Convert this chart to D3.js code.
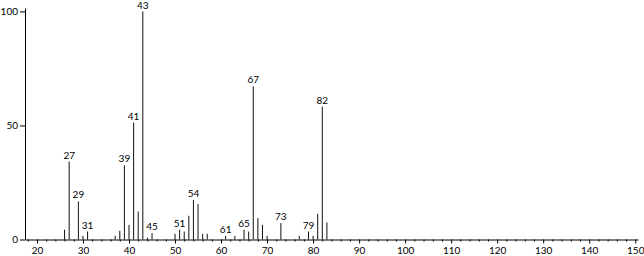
<!DOCTYPE html>
<html><head><meta charset="utf-8">
<script src="https://cdn.jsdelivr.net/npm/d3@7"></script>
<style>
html,body{margin:0;padding:0;background:#fff;}
svg{display:block;}
text{font-family:Lato, "DejaVu Sans", sans-serif;}
</style></head>
<body>
<script>
const mz =        [26, 27, 29, 30, 31, 37, 38, 39, 40, 41, 42, 43, 44, 45, 50, 51, 52, 53, 54, 55, 56, 57, 61, 63, 65, 66, 67, 68, 69, 70, 73, 77, 79, 80, 81, 82, 83];
const intensity = [4.3,34.2,16.7,1.6,3.5,1.6,3.8,32.5,6.4,51.3,12.3,100,0.8,2.8,2.5,4.3,3.5,10.4,17.4,15.5,2.5,2.5,1.6,1.6,4.3,3.5,67.2,9.4,6.4,1.6,7.2,1.6,3.5,1.6,11.3,58.3,7.5];
const labeled = [27, 29, 31, 39, 41, 43, 45, 51, 54, 61, 65, 67, 73, 79, 82];
const xMajorTicks = [20,30,40,50,60,70,80,90,100,110,120,130,140,150];
const yTicks = [0,50,100];

const W=644,H=256;
const svg=d3.select("body").append("svg").attr("width",W).attr("height",H);
const x=d3.scaleLinear().domain([17.4,150.6]).range([25,638]);
const y=d3.scaleLinear().domain([0,100]).range([239.5,11.5]);

// bars
svg.append("g").selectAll("line").data(mz.map((m,i)=>({m,v:intensity[i]}))).join("line")
  .attr("x1",d=>x(d.m)).attr("x2",d=>x(d.m))
  .attr("y1",y(0)).attr("y2",d=>y(d.v))
  .attr("stroke","#111").attr("stroke-width",1);

// labels
svg.append("g").selectAll("text").data(labeled).join("text")
  .attr("x",d=>x(d)).attr("y",d=>y(intensity[mz.indexOf(d)])-3)
  .attr("text-anchor","middle").attr("font-size",10).attr("fill","#000")
  .text(d=>d);

// x axis minor
const minor=d3.range(18,151,2).filter(v=>v%10!==0);
svg.append("g").attr("transform",`translate(0,${y(0)})`)
  .call(d3.axisBottom(x).tickValues(minor).tickSize(2).tickFormat(""))
  .call(g=>g.select(".domain").remove())
  .call(g=>g.selectAll("line").attr("stroke","#000"));
// x axis major
svg.append("g").attr("transform",`translate(0,${y(0)})`)
  .call(d3.axisBottom(x).tickValues(xMajorTicks).tickSize(4).tickSizeOuter(0).tickPadding(3))
  .call(g=>g.selectAll("text").attr("font-size",10).attr("fill","#000").style("font-family","Lato, 'DejaVu Sans', sans-serif"))
  .call(g=>g.selectAll("line,path").attr("stroke","#000"));
// y axis
svg.append("g").attr("transform",`translate(${x(17.4)},0)`)
  .call(d3.axisLeft(y.copy().domain([0,101.5]).range([239.5,8])).tickValues(yTicks).tickSize(5).tickSizeOuter(0).tickPadding(2))
  .call(g=>g.selectAll("text").attr("font-size",10).attr("fill","#000").style("font-family","Lato, 'DejaVu Sans', sans-serif"))
  .call(g=>g.selectAll("line,path").attr("stroke","#000"));
</script>
</body></html>
